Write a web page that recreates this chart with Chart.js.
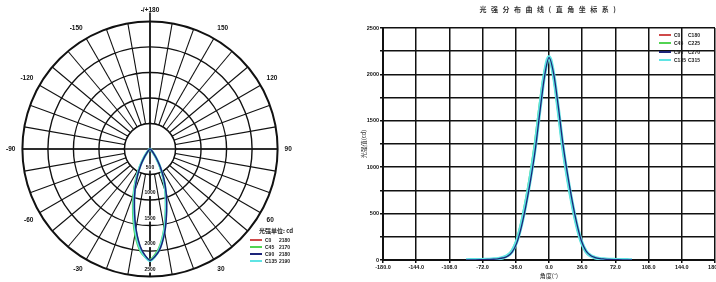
<!DOCTYPE html>
<html>
<head>
<meta charset="utf-8">
<script src="https://cdn.jsdelivr.net/npm/chart.js@4.4.1/dist/chart.umd.min.js"></script>
<style>
  html, body { margin: 0; padding: 0; background: #fff; overflow: hidden; width: 716px; height: 282px; }
  body { position: relative; font-family: 'Liberation Sans', sans-serif; color: #111; }
  #polar { position: absolute; left: 5px; top: 6px; }
  #line { position: absolute; left: 340px; top: 0; }
  .title { position: absolute; left: 440px; width: 220px; top: 4px; text-align: center; font: bold 7px 'Noto Sans CJK SC'; letter-spacing: 4.5px; color: #333; }
  .legend { position: absolute; font: bold 5px 'Liberation Sans', sans-serif; color: #222; }
  .legend .head { font: bold 6px 'Noto Sans CJK SC'; height: 10px; line-height: 10px; margin-left: 9px; }
  .legend .row { display: flex; align-items: center; white-space: nowrap; }
  .legend .sw { width: 12px; height: 2px; margin-right: 3px; }
  .legend .a { width: 14px; }
</style>
</head>
<body>
<canvas id="polar" width="288" height="288"></canvas>
<canvas id="line" width="400" height="282"></canvas>
<div class="title">光强分布曲线(直角坐标系)</div>
<div class="legend" id="polarLegend" style="left:250px; top:226px;"></div>
<div class="legend" id="lineLegend" style="left:659px; top:31px;"></div>
<script>
const angles = [-90, -85, -80, -75, -70, -65, -60, -55, -50, -45, -40, -35, -30, -25, -20, -15, -10, -5,
  0, 5, 10, 15, 20, 25, 30, 35, 40, 45, 50, 55, 60, 65, 70, 75, 80, 85, 90];

const c0 = [0, 1, 2, 3, 4, 6, 9, 14, 24, 45, 92, 195, 375, 610, 890, 1215, 1620, 1990,
  2180, 1990, 1620, 1215, 890, 610, 375, 195, 92, 45, 24, 14, 9, 6, 4, 3, 2, 1, 0];
const c45 = [0, 1, 2, 3, 5, 7, 10, 16, 27, 52, 105, 220, 410, 660, 950, 1290, 1690, 2030,
  2170, 1960, 1590, 1190, 870, 595, 365, 188, 88, 43, 23, 13, 8, 5, 4, 3, 2, 1, 0];
const c90 = [0, 1, 2, 3, 4, 6, 8, 13, 22, 41, 85, 182, 355, 585, 860, 1180, 1585, 1965,
  2180, 2010, 1660, 1260, 930, 645, 400, 210, 100, 49, 26, 15, 10, 6, 4, 3, 2, 1, 0];
const c135 = [0, 1, 2, 3, 4, 6, 9, 14, 25, 47, 95, 200, 380, 615, 895, 1220, 1625, 1995,
  2190, 1995, 1625, 1220, 895, 615, 380, 200, 95, 47, 25, 14, 9, 6, 4, 3, 2, 1, 0];

const planeNames = ['C0', 'C45', 'C90', 'C135'];
const peakValues = ['2180', '2170', '2180', '2190'];
const pairNames = ['C180', 'C225', 'C270', 'C315'];
const intensityTicks = [0, 500, 1000, 1500, 2000, 2500];
const angleTicks = [-180, -144, -108, -72, -36, 0, 36, 72, 108, 144, 180];

const series = [c0, c45, c90, c135];
const colors = ['#cf4a4a', '#52d352', '#1d2479', '#5fe4e4'];
const polarWidths = [1.5, 2, 1.5, 2.6];
const lineWidths = [1.5, 2, 1.3, 3.6];
const drawOrder = [3, 2, 0, 1];

// radar labels go clockwise from the bottom: 0, -5 ... -180, 175 ... 5
const polarAngles = [];
for (let i = 0; i < 72; i++) polarAngles.push(i <= 36 ? -5 * i : 360 - 5 * i);

function polarValues(s) {
  return polarAngles.map(a => {
    const k = angles.indexOf(a);
    return k < 0 ? 0 : s[k];
  });
}

const polarHole = {
  id: 'polarHole',
  beforeDatasetsDraw(chart) {
    const r = chart.scales.r;
    const ctx = chart.ctx;
    const inner = r.getDistanceFromCenterForValue(intensityTicks[1]);
    const outer = r.drawingArea;
    ctx.save();
    ctx.fillStyle = '#fff';
    ctx.beginPath();
    ctx.arc(r.xCenter, r.yCenter, inner, 0, Math.PI * 2);
    ctx.fill();
    ctx.strokeStyle = '#111';
    ctx.lineWidth = 1.4;
    ctx.stroke();
    ctx.lineWidth = 1.6;
    ctx.beginPath();
    ctx.moveTo(r.xCenter - outer, r.yCenter);
    ctx.lineTo(r.xCenter + outer, r.yCenter);
    ctx.moveTo(r.xCenter, r.yCenter - outer - 9);
    ctx.lineTo(r.xCenter, r.yCenter + outer);
    ctx.stroke();
    ctx.font = 'bold 5px "Liberation Sans"';
    ctx.textAlign = 'center';
    ctx.textBaseline = 'middle';
    intensityTicks.slice(1).forEach(v => {
      const y = r.yCenter + r.getDistanceFromCenterForValue(v) - 7;
      const w = ctx.measureText(String(v)).width;
      ctx.fillStyle = '#fff';
      ctx.fillRect(r.xCenter - w / 2 - 1, y - 3, w + 2, 6);
      ctx.fillStyle = '#111';
      ctx.fillText(String(v), r.xCenter, y);
    });
    ctx.restore();
  }
};

new Chart(document.getElementById('polar'), {
  type: 'radar',
  data: {
    labels: polarAngles,
    datasets: series.map((s, k) => ({
      label: planeNames[k],
      data: polarValues(s),
      borderColor: colors[k],
      borderWidth: polarWidths[k],
      pointRadius: 0,
      fill: false,
      tension: 0.25,
      order: drawOrder[k]
    }))
  },
  options: {
    responsive: false,
    animation: false,
    plugins: { legend: { display: false }, tooltip: { enabled: false } },
    scales: {
      r: {
        min: intensityTicks[0],
        max: intensityTicks[intensityTicks.length - 1],
        startAngle: 180,
        ticks: { display: false, stepSize: 500 },
        grid: { circular: true, color: '#111', lineWidth: c => c.index === intensityTicks.length - 1 ? 2 : 1.4 },
        angleLines: { color: '#111', lineWidth: c => c.index % 2 === 0 ? 1.1 : 0 },
        pointLabels: {
          padding: 7,
          color: '#111',
          font: { size: 6.5, weight: 'bold', family: 'Liberation Sans' },
          callback: a => a % 30 !== 0 ? '' : (a === -180 ? '-/+180' : String(a))
        }
      }
    }
  },
  plugins: [polarHole]
});

new Chart(document.getElementById('line'), {
  type: 'line',
  data: {
    datasets: series.map((s, k) => ({
      label: planeNames[k],
      data: angles.map((a, j) => ({ x: a, y: s[j] })),
      borderColor: colors[k],
      borderWidth: lineWidths[k],
      pointRadius: 0,
      cubicInterpolationMode: 'monotone',
      order: drawOrder[k]
    }))
  },
  options: {
    responsive: false,
    animation: false,
    layout: { padding: { top: 28, right: 25, left: 0, bottom: 0 } },
    plugins: { legend: { display: false }, tooltip: { enabled: false } },
    scales: {
      x: {
        type: 'linear',
        min: angleTicks[0],
        max: angleTicks[angleTicks.length - 1],
        afterBuildTicks: s => { s.ticks = angleTicks.map(v => ({ value: v })); },
        ticks: { callback: v => v.toFixed(1), maxRotation: 0, autoSkip: false, padding: 1, color: '#111',
          font: { size: 5.5, weight: 'bold', family: 'Liberation Sans' } },
        grid: { color: '#111', lineWidth: 1.5, tickLength: 3 },
        border: { color: '#111', width: 2 },
        title: { display: true, text: '角度(°)', color: '#222', padding: { top: 0, bottom: 3 },
          font: { size: 6, family: 'Noto Sans CJK SC' } },
        afterFit: s => { s.height = 22; }
      },
      y: {
        min: intensityTicks[0],
        max: intensityTicks[intensityTicks.length - 1],
        ticks: { stepSize: 250, padding: 1, color: '#111',
          callback: v => intensityTicks.includes(v) ? String(v) : '',
          font: { size: 5.5, weight: 'bold', family: 'Liberation Sans' } },
        grid: { color: '#111', lineWidth: 1.5, tickLength: 3 },
        border: { color: '#111', width: 2 },
        title: { display: true, text: '光强值(cd)', color: '#333', padding: { top: 20, bottom: 0 },
          font: { size: 6, family: 'Noto Sans CJK SC' } },
        afterFit: s => { s.width = 43; }
      }
    }
  }
});

function buildLegend(id, head, rows) {
  const box = document.getElementById(id);
  let html = head ? '<div class="head">' + head + '</div>' : '';
  rows.forEach((r, k) => {
    html += '<div class="row" style="height:' + r.h + 'px"><span class="sw" style="background:' + colors[k] +
      '"></span><span class="a">' + r.a + '</span><span>' + r.b + '</span></div>';
  });
  box.innerHTML = html;
}

buildLegend('polarLegend', '光强单位: cd', planeNames.map((n, k) => ({ a: n, b: peakValues[k], h: 7.2 })));
buildLegend('lineLegend', '', planeNames.map((n, k) => ({ a: n, b: pairNames[k], h: 8.3 })));
</script>
</body>
</html>
